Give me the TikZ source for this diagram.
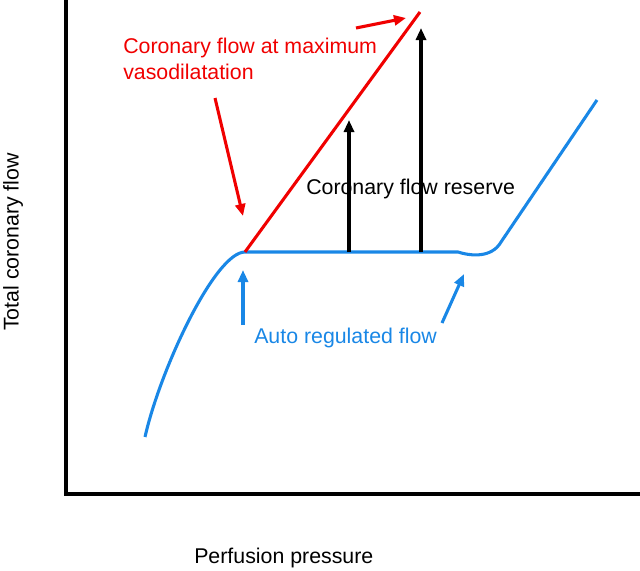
\documentclass[tikz,border=0pt]{standalone}
\usepackage{fontspec}
\setmainfont{Liberation Sans}
\usetikzlibrary{arrows.meta}
\definecolor{cblue}{RGB}{25,135,230}
\definecolor{cred}{RGB}{240,0,0}
\tikzset{
  curve/.style={line width=2.3pt},
  axis/.style={line width=2.3pt, black},
  arr/.style={line width=2.3pt, -{Triangle[length=9pt,width=7.5pt]}},
  lbl/.style={inner sep=0pt, font=\fontsize{16}{19.5}\selectfont},
}
\begin{document}
\begin{tikzpicture}[x=0.75pt,y=-0.75pt]
\useasboundingbox (0,0) rectangle (640,571);
% axes
\coordinate (top) at (66,0);
\coordinate (origin) at (66,494);
\coordinate (xend) at (640,494);
\draw[axis] (top) -- (origin) -- (xend);
% key points
\coordinate (start) at (145,437);
\coordinate (knee) at (245,252);
\coordinate (plat) at (458,252);
\coordinate (bend) at (499,245);
\coordinate (bend2) at (597,100);
\coordinate (redtop) at (420,12);
% texts
\node[lbl, text=cred, anchor=west, align=left] (redlbl) at (123,59) {Coronary flow at maximum\\vasodilatation};
\node[lbl, anchor=west] (crlbl) at (306,189) {Coronary flow reserve};
\node[lbl, text=cblue, anchor=west] (autolbl) at (254,338) {Auto regulated flow};
\node[lbl, rotate=90] (ylbl) at (13,242) {Total coronary flow};
\node[lbl, anchor=west] (xlbl) at (194,558) {Perfusion pressure};
% blue curve
\draw[curve, cblue] (start) .. controls (160,370) and (215,252) .. (knee) -- (plat)
  .. controls (467,255) and (488,259) .. (bend) -- (bend2);
% red line
\draw[curve, cred] (knee) -- (redtop);
% black arrows
\coordinate (b1) at (349,252);
\coordinate (b1t) at (349,120);
\coordinate (b2) at (421,252);
\coordinate (b2t) at (421,28);
\draw[arr, black] (b1) -- (b1t);
\draw[arr, black] (b2) -- (b2t);
% red pointer arrows
\coordinate (r1s) at (356,28);
\coordinate (r1e) at (406,18);
\coordinate (r2s) at (215,98);
\coordinate (r2e) at (243,216);
\draw[arr, cred] (r1s) -- (r1e);
\draw[arr, cred] (r2s) -- (r2e);
% blue pointer arrows
\coordinate (u1s) at (243,325);
\coordinate (u1e) at (243,270);
\coordinate (u2s) at (442,323);
\coordinate (u2e) at (464,274);
\draw[arr, cblue] (u1s) -- (u1e);
\draw[arr, cblue] (u2s) -- (u2e);
\end{tikzpicture}
\end{document}
